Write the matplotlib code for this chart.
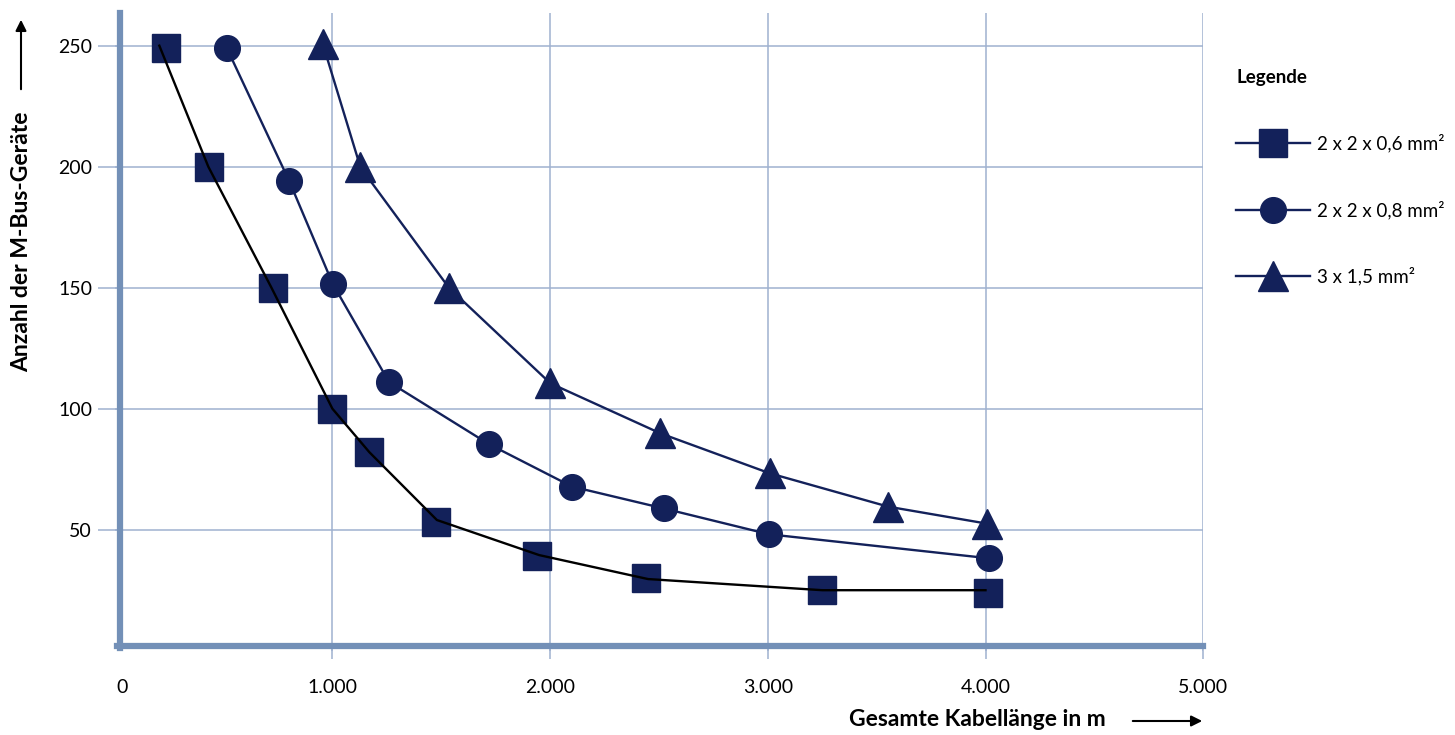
import matplotlib
matplotlib.use("Agg")
import matplotlib.pyplot as plt
from matplotlib.lines import Line2D
from matplotlib.transforms import ScaledTranslation

plt.rcParams['font.family'] = ['Lato', 'DejaVu Sans']

# --- data ---
sq_x = [235, 432, 725, 1000, 1166, 1475, 1940, 2440, 3250, 4010]
sq_y = [249, 200, 150, 100, 82, 53, 39, 30, 25, 24]
sq_line_x = [205, 430, 720, 1000, 1170, 1480, 1950, 2450, 3250, 4000]
sq_line_y = [250, 200, 150, 100, 82, 54, 39.5, 29.6, 25, 25]

ci_x = [515, 802, 1002, 1260, 1720, 2101, 2521, 3006, 4015]
ci_y = [249, 194, 151.5, 111, 85.3, 67.8, 58.8, 48.1, 38.2]

tr_x = [956, 1129, 1535, 2001, 2507, 3009, 3554, 4007]
tr_y = [250.7, 199.7, 150, 110.5, 89.8, 73.3, 59.5, 52.5]

labels = ['2 x 2 x 0,6 mm²', '2 x 2 x 0,8 mm²', '3 x 1,5 mm²']
x_ticks = [0, 1000, 2000, 3000, 4000, 5000]
x_ticklabels = ['0', '1.000', '2.000', '3.000', '4.000', '5.000']
x_grid = [1000, 2000, 3000, 4000, 5000]
y_ticks = [50, 100, 150, 200, 250]

NAVY = '#13215a'
SPINE = '#7390b7'
GRID = '#9fb2d0'

fig = plt.figure(figsize=(14.55, 7.35), dpi=100)
ax = fig.add_axes([114.7 / 1455, (735 - 650.7) / 735, (1203.2 - 114.7) / 1455, (650.7 - 13) / 735])
ax.set_xlim(0, 5000)
ax.set_ylim(0, 263.5)

# series
ax.plot(sq_x, sq_y, linestyle='none', marker='s', ms=20.5, color=NAVY, zorder=3)
ax.plot(sq_line_x, sq_line_y, color='black', lw=1.7, zorder=4)
ax.plot(ci_x, ci_y, color=NAVY, lw=1.7, marker='o', ms=18.5, zorder=3)
ax.plot(tr_x, tr_y, color=NAVY, lw=1.7, marker='^', ms=21, zorder=3)

# axes styling: labels on major ticks, grid + tick marks on minor ticks
ax.xaxis.remove_overlapping_locs = False
ax.set_xticks(x_ticks)
ax.set_xticklabels(x_ticklabels)
ax.set_xticks(x_grid, minor=True)
ax.set_yticks(y_ticks)
ax.grid(False)
ax.xaxis.grid(True, which='minor', color=GRID, lw=1.1, zorder=0)
ax.yaxis.grid(True, which='major', color=GRID, lw=1.1, zorder=0)
ax.set_axisbelow(True)

for s in ['top', 'right']:
    ax.spines[s].set_visible(False)
ax.spines['left'].set_position(('data', 24))
ax.spines['left'].set_bounds(1.0, 263.5)
ax.spines['bottom'].set_position(('data', 1.9))
ax.spines['bottom'].set_bounds(10, 5000)
for s in ['left', 'bottom']:
    ax.spines[s].set_color(SPINE)
    ax.spines[s].set_linewidth(4.5)
    ax.spines[s].set_zorder(2)

ax.tick_params(axis='x', which='major', length=0, pad=24, labelsize=14)
ax.tick_params(axis='x', which='minor', length=9.5, width=1.1, color=GRID)
ax.tick_params(axis='y', length=16, width=1.1, color=GRID, pad=4, labelsize=14)

# nudge the "0" label onto the thick spine like the reference
lbl0 = ax.xaxis.get_major_ticks()[0].label1
lbl0.set_transform(lbl0.get_transform() + ScaledTranslation(7 / 100, 0, fig.dpi_scale_trans))

# axis titles with arrows
fig.text(21.7 / 1455, 1 - 242 / 735, 'Anzahl der M-Bus-Geräte', rotation=90,
         ha='center', va='center', fontsize=16.5, fontweight='bold')
fig.text(977 / 1455, 1 - 720 / 735, 'Gesamte Kabellänge in m',
         ha='center', va='center', fontsize=16.5, fontweight='bold')
fig.add_artist(matplotlib.patches.FancyArrowPatch(
    (21 / 1455, 1 - 92 / 735), (21 / 1455, 1 - 17 / 735), transform=fig.transFigure,
    arrowstyle='-|>', mutation_scale=16, color='black', lw=1.5))
fig.add_artist(matplotlib.patches.FancyArrowPatch(
    (1130 / 1455, 1 - 721 / 735), (1205 / 1455, 1 - 721 / 735), transform=fig.transFigure,
    arrowstyle='-|>', mutation_scale=16, color='black', lw=1.5))

# legend
handles = [
    Line2D([], [], color=NAVY, lw=1.7, marker='s', ms=20.5),
    Line2D([], [], color=NAVY, lw=1.7, marker='o', ms=18.5),
    Line2D([], [], color=NAVY, lw=1.7, marker='^', ms=21),
]
leg = fig.legend(handles, labels, loc='upper left',
                 bbox_to_anchor=(1227 / 1455, 1 - 60 / 735),
                 frameon=False, fontsize=13.5, title='Legende',
                 title_fontproperties={'weight': 'bold', 'size': 13.5},
                 alignment='left', borderpad=0, handlelength=3.9,
                 handletextpad=0.4, labelspacing=2.55, numpoints=1)

fig.savefig('out.png', dpi=100)
